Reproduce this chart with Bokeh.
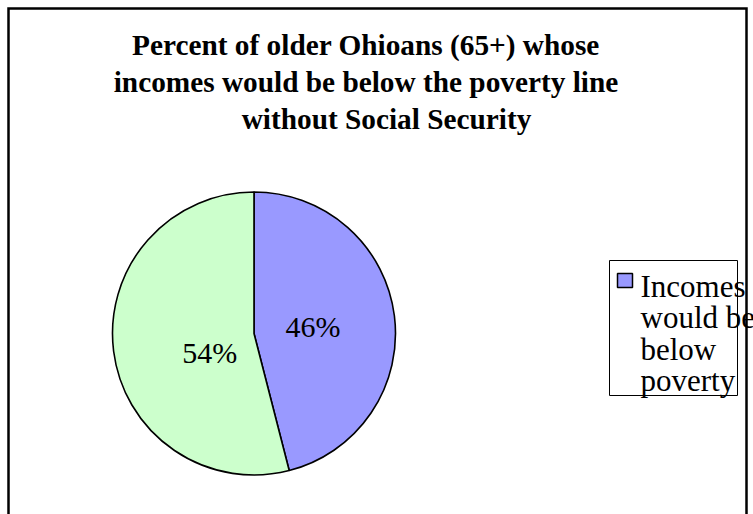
import math
from bokeh.plotting import figure
from bokeh.models import Range1d, ColumnDataSource
from bokeh.core.properties import value
from bokeh.embed import file_html
from bokeh.resources import INLINE

# ---- data ----
categories = ["Incomes would be below poverty", "Incomes would not be below poverty"]
shares = [46, 54]
slice_labels = ["46%", "54%"]
colors = ["#9999FF", "#CCFFCC"]
title_lines = ["Percent of older Ohioans (65+) whose",
               "incomes would be below the poverty line",
               "without Social Security"]
legend_lines = ["Incomes", "would be", "below", "poverty"]

# ---- layout (pixels within the page) ----
W, H = 753, 514
def Y(v):
    return H - v

SERIF = "Liberation Serif"
p = figure(width=W, height=H, x_range=Range1d(0, W), y_range=Range1d(0, H),
           output_backend="svg", toolbar_location=None,
           x_axis_location=None, y_axis_location=None,
           min_border=0, outline_line_color=None)
p.grid.visible = False
p.background_fill_color = "white"
p.border_fill_color = "white"

# title
title_x = [365.5, 365.5, 386]
title_y = [Y(44), Y(81), Y(118)]
p.text(x=title_x, y=title_y, text=title_lines, text_font=value(SERIF),
       text_font_size="29.3px", text_font_style="bold", text_align="center",
       text_baseline="alphabetic", text_color="black")

# pie
cx, cy, r = 253.5, Y(333), 141.5
total = float(sum(shares))
starts, ends, lx, ly = [], [], [], []
label_frac = [0.42, 0.34]
label_shift = [0.0, 16.0]
cum = 0.0
for i, v in enumerate(shares):
    a0 = 90 - cum / total * 360
    a1 = 90 - (cum + v) / total * 360
    cum += v
    starts.append(math.radians(a1))
    ends.append(math.radians(a0))
    mid = math.radians((a0 + a1) / 2 + label_shift[i])
    lx.append(cx + label_frac[i] * r * math.cos(mid))
    ly.append(cy + label_frac[i] * r * math.sin(mid))

src = ColumnDataSource(dict(start=starts, end=ends, color=colors, cat=categories,
                            lx=lx, ly=ly, lab=slice_labels))
p.wedge(x=cx, y=cy, radius=r, start_angle="start", end_angle="end",
        direction="anticlock", fill_color="color", line_color="black",
        line_width=1.6, source=src)
p.text(x="lx", y="ly", text="lab", source=src, text_font=value(SERIF),
       text_font_size="30px", text_align="center", text_baseline="middle",
       text_color="black")

# legend (manual, wrapped text)
p.quad(left=609, right=737, top=Y(260), bottom=Y(395), fill_color="white",
       line_color="black", line_width=1)
p.quad(left=617, right=632, top=Y(273), bottom=Y(287), fill_color=colors[0],
       line_color="black", line_width=1.5)
leg_y = [Y(286 + i * 31.3) for i in range(len(legend_lines))]
p.text(x=[640] * len(legend_lines), y=leg_y, text=legend_lines,
       text_font=value(SERIF), text_font_size="31px", text_align="left",
       text_baseline="alphabetic", text_color="black")

# chart-area border (bottom edge runs off the page)
p.line(x=[8, 8, 746, 746], y=[Y(H + 10), Y(8), Y(8), Y(H + 10)],
       line_color="black", line_width=2.5, line_join="miter")

open("out.html", "w").write(file_html(p, INLINE))
